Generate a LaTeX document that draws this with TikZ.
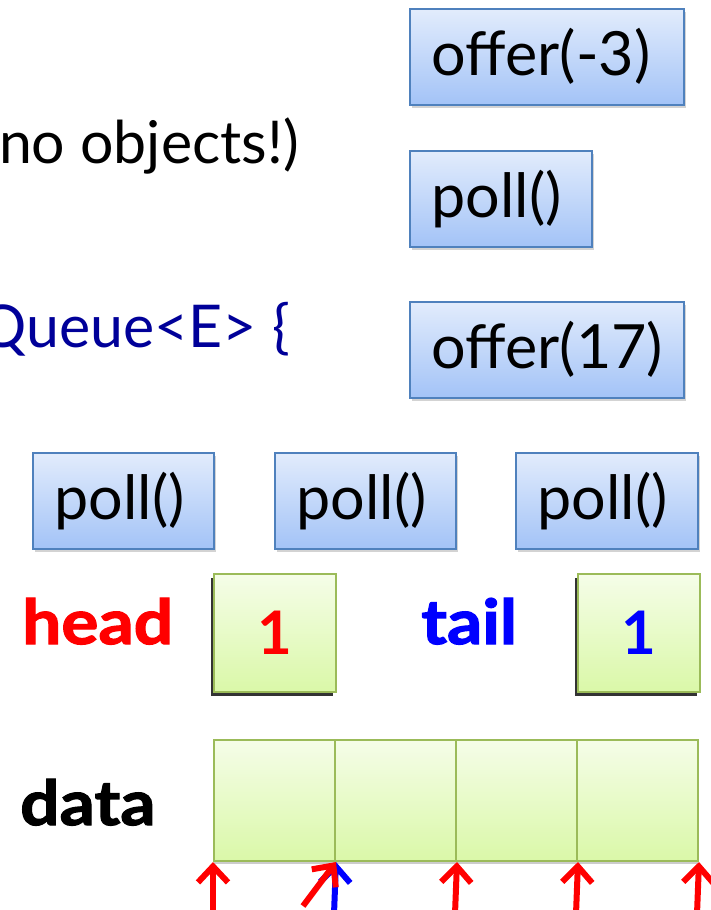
\documentclass[tikz,border=0pt]{standalone}
\usepackage{fontspec}
\setmainfont{Lato}
\newfontfamily\heavyfont[FakeStretch=1.12,FakeBold=2]{Lato}
\usetikzlibrary{arrows.meta,shadows}
\definecolor{bluetop}{HTML}{E2ECFC}
\definecolor{bluebot}{HTML}{A3C3F7}
\definecolor{blueline}{HTML}{4F81BD}
\definecolor{greentop}{HTML}{F5FDE8}
\definecolor{greenbot}{HTML}{DAF8A8}
\definecolor{greenline}{HTML}{9BBB59}
\definecolor{navy}{HTML}{000099}
\tikzset{
 opbox/.style={draw=blueline, line width=1.5pt, top color=bluetop, bottom color=bluebot,
   anchor=north west, inner xsep=22pt, inner ysep=0pt, minimum height=96pt,
   text width=#1, align=left,
   font=\fontsize{61}{62}\selectfont,
   drop shadow={opacity=0.35, shadow xshift=2pt, shadow yshift=-3pt}},
 valbox/.style={draw=greenline, line width=2pt, top color=greentop, bottom color=greenbot,
   anchor=north west, inner sep=0pt, minimum width=122pt, minimum height=118pt,
   drop shadow={fill=black, opacity=0.8, shadow xshift=-3pt, shadow yshift=-4pt},
   font=\bfseries\fontsize{60}{60}\selectfont},
 cell/.style={draw=greenline, line width=2pt, top color=greentop, bottom color=greenbot,
   anchor=north west, inner sep=0pt, minimum width=121pt, minimum height=121pt,
   drop shadow={opacity=0.4, shadow xshift=0pt, shadow yshift=-3pt}},
 lbl/.style={font=\heavyfont\bfseries\fontsize{62}{62}\selectfont, anchor=base west, inner sep=0pt},
 txt/.style={font=\fontsize{59}{62}\selectfont, anchor=base east, inner sep=0pt},
 ptr/.style={line width=6pt, -{Straight Barb[length=16pt,width=30pt]}},
}
\begin{document}
\begin{tikzpicture}[x=1pt,y=-1pt]
\useasboundingbox (0,0) rectangle (710,910);
% text lines
\node[txt] (t1) at (299,163) {no objects!)};
\node[txt, text=navy] (t2) at (290,347) {Queue<E> \{};
% operation boxes
\node[opbox=230pt] (op1) at (409,8) {offer(-3)};
\node[opbox=138pt] (op2) at (409,150) {poll()};
\node[opbox=230pt] (op3) at (409,301) {offer(17)};
\node[opbox=137pt] (p1) at (32,452) {poll()};
\node[opbox=137pt] (p2) at (274,452) {poll()};
\node[opbox=138pt] (p3) at (515,452) {poll()};
% head / tail
\node[lbl, text=red] (head) at (22,644) {head};
\node[valbox, text=red] (hv) at (213,573) {1};
\node[lbl, text=blue] (tail) at (421,644) {tail};
\node[valbox, text=blue] (tv) at (577,573) {1};
% data array
\node[lbl] (data) at (20,825) {data};
\node[cell] (d1) at (213,739) {};
\node[cell] (d2) at (334,739) {};
\node[cell] (d3) at (455,739) {};
\node[cell] (d4) at (576,739) {};
% pointer arrows
\coordinate (b0) at (213,914);
\coordinate (b1) at (334,914);
\coordinate (b2) at (455,914);
\coordinate (b3) at (576,914);
\coordinate (b4) at (697,914);
\coordinate (r1) at (303,906);
\draw[ptr, blue] (b1) -- (d1.south east);
\draw[ptr, red] (r1) -- (d1.south east);
\draw[ptr, red] (b0) -- (d1.south west);
\draw[ptr, red] (b2) -- (d2.south east);
\draw[ptr, red] (b3) -- (d3.south east);
\draw[ptr, red] (b4) -- (d4.south east);
\end{tikzpicture}
\end{document}
